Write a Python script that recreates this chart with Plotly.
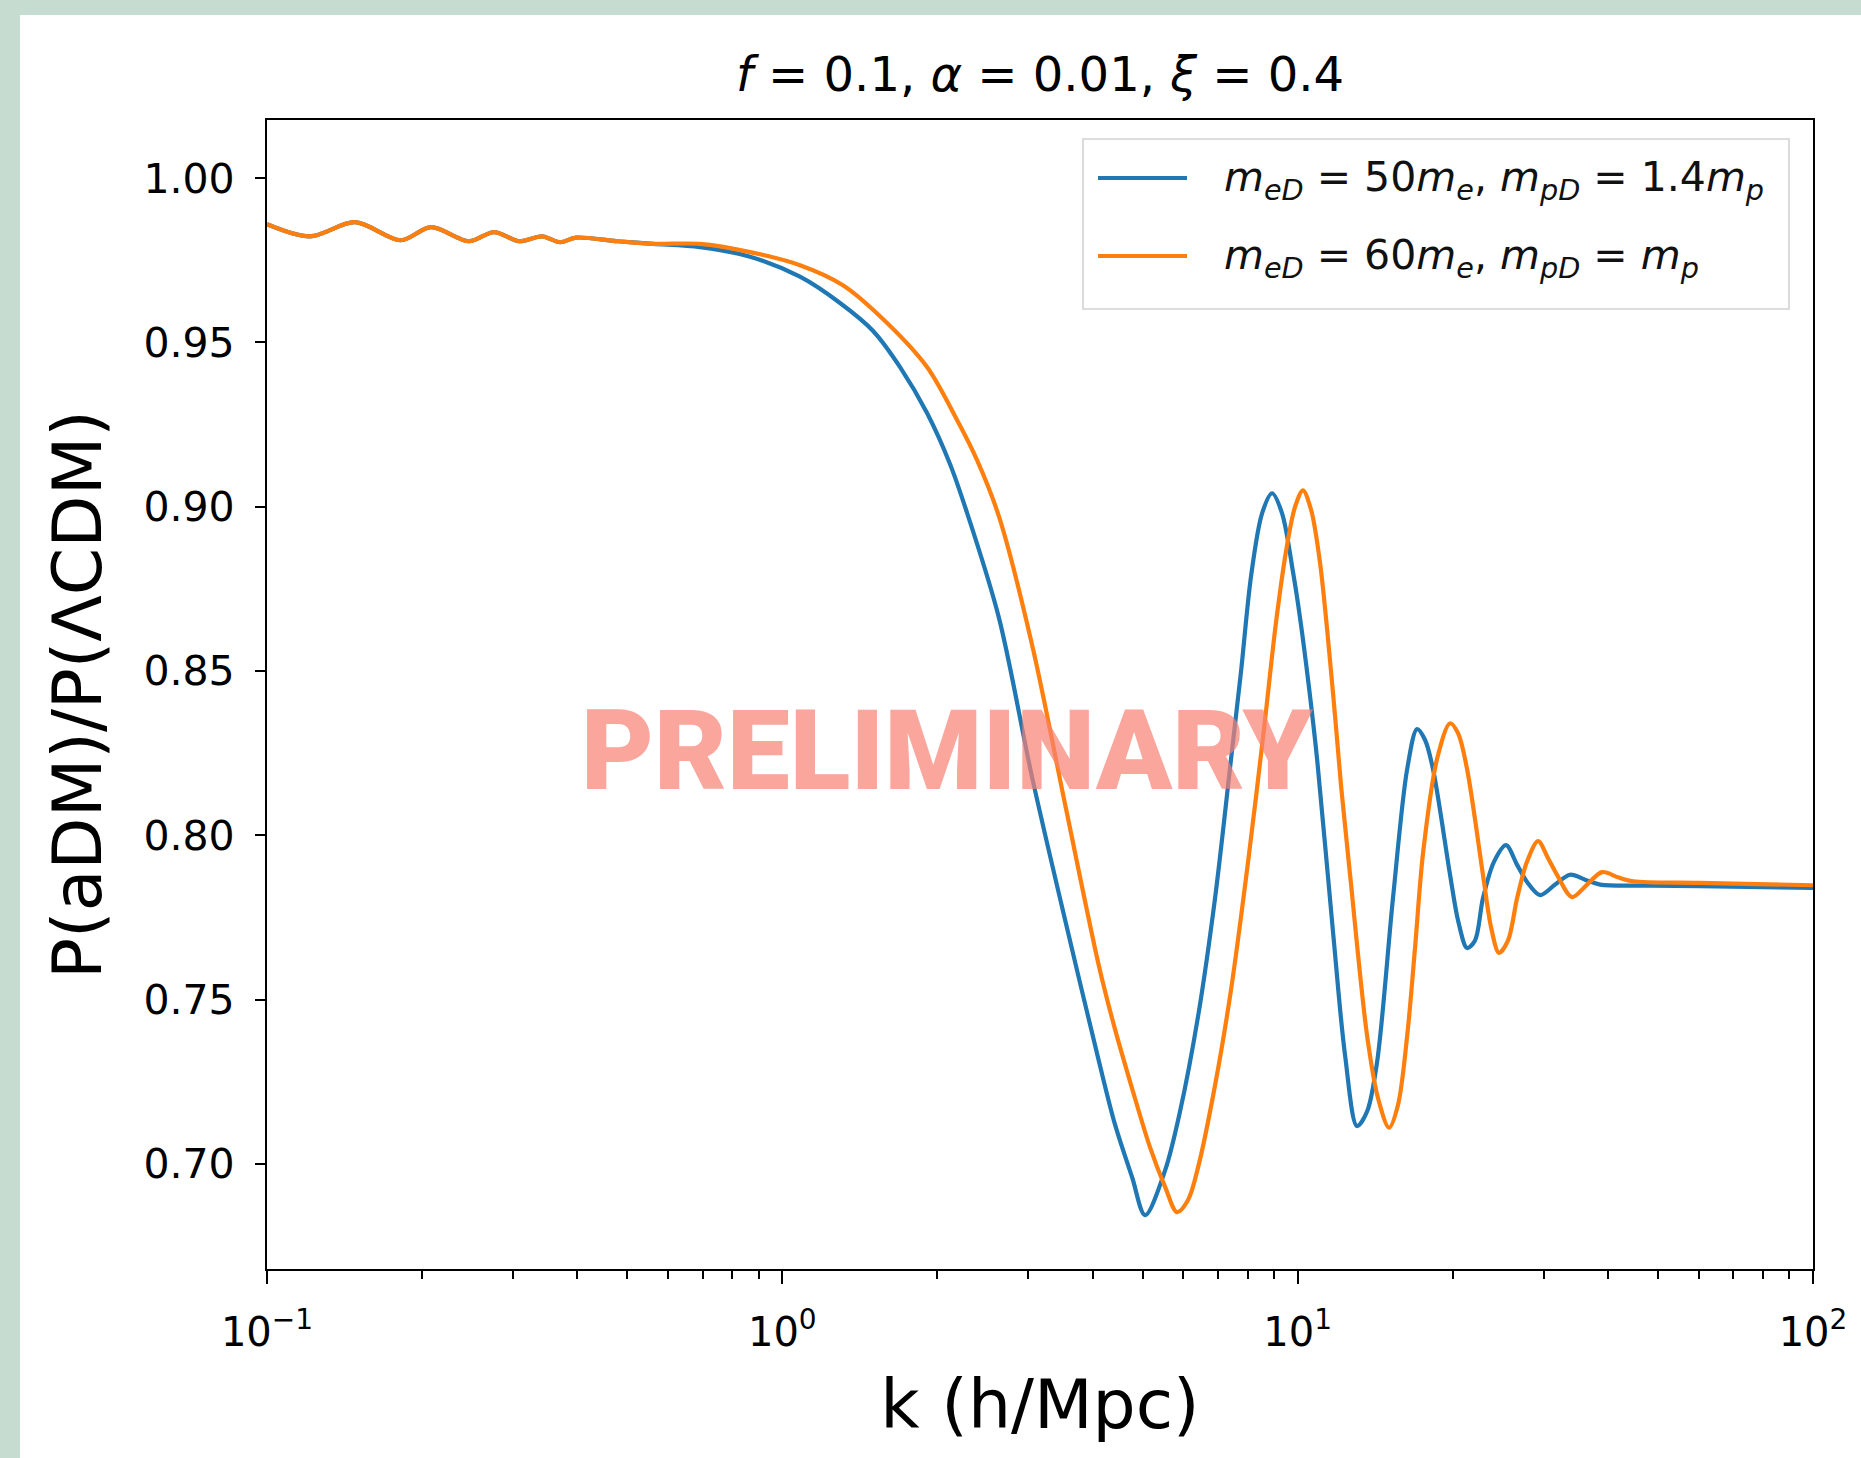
import plotly.graph_objects as go

# ---------------- data ----------------
series_names = [
    "<i>m</i><sub><i>eD</i></sub> = 50<i>m</i><sub><i>e</i></sub>, <i>m</i><sub><i>pD</i></sub> = 1.4<i>m</i><sub><i>p</i></sub>",
    "<i>m</i><sub><i>eD</i></sub> = 60<i>m</i><sub><i>e</i></sub>, <i>m</i><sub><i>pD</i></sub> = <i>m</i><sub><i>p</i></sub>",
]
series_colors = ["#1f77b4", "#ff7f0e"]

# shared low-k part (both models coincide)
k_low = [0.1, 0.1212, 0.1482, 0.1820, 0.2081, 0.2466, 0.2758, 0.3083, 0.3418,
         0.3704, 0.3977, 0.4777, 0.5611]
ratio_low = [0.986, 0.9823, 0.9866, 0.9811, 0.9851, 0.9808, 0.9836, 0.9808, 0.9823,
             0.9805, 0.9819, 0.9808, 0.980]

k_blue = [0.6922, 0.8656, 1.082, 1.294, 1.500, 1.692, 1.909, 2.115, 2.273, 2.633,
          3.052, 3.553, 4.118, 4.421, 4.771, 5.057, 5.530, 5.913, 6.410,
          6.915, 7.425, 7.766, 8.122, 8.530, 8.920, 9.326, 9.797, 10.11, 10.52,
          10.91, 11.72, 12.36, 13.04, 13.64, 14.26, 15.31, 16.31, 17.05, 17.67,
          18.31, 19.76, 20.48, 21.32, 22.09, 22.89, 24.05, 25.37, 26.66, 27.87,
          29.54, 31.59, 33.78, 36.12, 38.63, 48.30, 60.38, 100.0]
ratio_blue = [0.979, 0.9761, 0.970, 0.962, 0.9535, 0.9425, 0.9285, 0.913, 0.899, 0.8661,
              0.8177, 0.773, 0.731, 0.712, 0.696, 0.6844, 0.698, 0.716, 0.745,
              0.781, 0.8232, 0.850, 0.879, 0.898, 0.9041, 0.898, 0.880, 0.866, 0.845,
              0.823, 0.770, 0.733, 0.7115, 0.716, 0.731, 0.7809, 0.8201, 0.8323, 0.829,
              0.8201, 0.7879, 0.774, 0.7657, 0.768, 0.7809, 0.792, 0.797, 0.791, 0.7858,
              0.7818, 0.785, 0.788, 0.7865, 0.785, 0.7847, 0.7845, 0.784]

k_orange = [0.6922, 0.8656, 1.082, 1.311, 1.597, 1.909, 2.183, 2.387, 2.633, 3.052,
            3.553, 4.118, 4.421, 4.771, 5.171, 5.530, 5.834, 6.128, 6.410, 6.915,
            7.425, 8.014, 8.607, 9.081, 9.537, 9.886, 10.24, 10.62, 11.05, 11.72,
            12.14, 12.64, 13.64, 14.32, 15.05, 15.66, 16.31, 16.90, 17.52, 18.64,
            19.76, 20.48, 21.32, 22.89, 23.73, 24.59, 25.60, 26.66, 27.87, 29.28,
            30.61, 31.88, 34.09, 36.44, 38.97, 41.86, 44.76, 60.38, 100.0]
ratio_orange = [0.980, 0.9775, 0.9735, 0.9674, 0.9559, 0.9425, 0.9264, 0.9142, 0.897, 0.858,
                0.808, 0.760, 0.741, 0.723, 0.705, 0.693, 0.6853, 0.689, 0.699, 0.724,
                0.753, 0.792, 0.8326, 0.865, 0.8883, 0.900, 0.905, 0.899, 0.883, 0.8427,
                0.815, 0.7879, 0.7389, 0.720, 0.711, 0.718, 0.7389, 0.766, 0.7949, 0.8232,
                0.8341, 0.831, 0.8201, 0.7879, 0.772, 0.7642, 0.768, 0.7809, 0.792, 0.7982,
                0.793, 0.7879, 0.7812, 0.785, 0.7888, 0.7872, 0.786, 0.7855, 0.7848]

y_tick_vals = [0.70, 0.75, 0.80, 0.85, 0.90, 0.95, 1.00]
y_tick_text = ["0.70", "0.75", "0.80", "0.85", "0.90", "0.95", "1.00"]
x_tick_vals = [0.1, 1, 10, 100]
x_tick_text = ["10<sup>\u22121</sup>", "10<sup>0</sup>", "10<sup>1</sup>", "10<sup>2</sup>"]
x_minor_vals = [m * d for d in (0.1, 1, 10) for m in range(2, 10)]

title_text = "<i>f</i> = 0.1, <i>\u03b1</i> = 0.01, <i>\u03be</i> = 0.4"
x_title = "k (h/Mpc)"
y_title = "P(aDM)/P(\u039bCDM)"
watermark = "PRELIMINARY"

# ---------------- layout geometry (pixels) ----------------
W_FIG, H_FIG = 1861, 1458
L, R, T, B = 267, 1813, 120, 1269
PW, PH = R - L, B - T


def px(x):
    return (x - L) / PW


def py(y):
    return 1 - (y - T) / PH


FONT = "DejaVu Sans"
LW = 4.2
fig = go.Figure()

xs = [k_low + k_blue, k_low + k_orange]
ys = [ratio_low + ratio_blue, ratio_low + ratio_orange]
for name, color, x, y in zip(series_names, series_colors, xs, ys):
    fig.add_trace(go.Scatter(
        x=x, y=y, mode="lines", name=name,
        line=dict(color=color, width=LW, shape="spline", smoothing=0.9),
        showlegend=False, hoverinfo="skip",
    ))

shapes = [
    # white panel over green page background
    dict(type="rect", xref="paper", yref="paper", layer="below",
         x0=px(20), x1=px(W_FIG + 5), y0=py(H_FIG + 5), y1=py(15),
         fillcolor="white", line=dict(width=0)),
    # legend box
    dict(type="rect", xref="paper", yref="paper", layer="above",
         x0=px(1083), x1=px(1789), y0=py(309), y1=py(139),
         fillcolor="rgba(255,255,255,0.85)", line=dict(color="#d2d2d2", width=1.6)),
]
ann = []
for i, (name, color) in enumerate(zip(series_names, series_colors)):
    yc = 178 + 78 * i
    shapes.append(dict(type="line", xref="paper", yref="paper", layer="above",
                       x0=px(1098), x1=px(1187), y0=py(yc), y1=py(yc),
                       line=dict(color=color, width=LW)))
    ann.append(dict(xref="paper", yref="paper", x=px(1222), y=py(yc + 2),
                    xanchor="left", yanchor="middle", showarrow=False,
                    text=name, font=dict(family=FONT, size=41, color="#111")))

ann.append(dict(xref="paper", yref="paper", x=px(947), y=py(750),
                xanchor="center", yanchor="middle", showarrow=False,
                text=watermark,
                font=dict(family="Roboto", size=112, weight=900,
                          color="rgba(250,128,114,0.7)")))

fig.update_layout(
    width=W_FIG, height=H_FIG,
    margin=dict(l=L, r=W_FIG - R, t=T, b=H_FIG - B, pad=0),
    paper_bgcolor="#c6dcd0", plot_bgcolor="white",
    title=dict(text=title_text, x=0.5, xref="paper", xanchor="center",
               y=1 - 74 / H_FIG, yanchor="middle",
               font=dict(family=FONT, size=48, color="black")),
    shapes=shapes, annotations=ann,
    xaxis=dict(
        type="log", range=[-1, 2],
        showline=True, linecolor="black", linewidth=2.2, mirror=True,
        showgrid=False, zeroline=False,
        tickmode="array", tickvals=x_tick_vals, ticktext=x_tick_text,
        ticks="outside", ticklen=13, tickwidth=2, tickcolor="black",
        ticklabelstandoff=14,
        minor=dict(tickmode="array", tickvals=x_minor_vals, ticks="outside",
                   ticklen=8, tickwidth=1.5, tickcolor="black", showgrid=False),
        tickfont=dict(family=FONT, size=40, color="black"),
        title=dict(text=x_title, standoff=26,
                   font=dict(family=FONT, size=68, color="black")),
    ),
    yaxis=dict(
        range=[0.668, 1.0177],
        showline=True, linecolor="black", linewidth=2.2, mirror=True,
        showgrid=False, zeroline=False,
        tickmode="array", tickvals=y_tick_vals, ticktext=y_tick_text,
        ticks="outside", ticklen=10, tickwidth=2, tickcolor="black",
        ticklabelstandoff=12,
        tickfont=dict(family=FONT, size=41, color="black"),
        title=dict(text=y_title, standoff=20,
                   font=dict(family=FONT, size=68, color="black")),
    ),
)

fig.write_html(
    "out.html",
    config={"displayModeBar": False},
    post_script="document.body.style.margin='0';document.body.style.background='#c6dcd0';",
)
